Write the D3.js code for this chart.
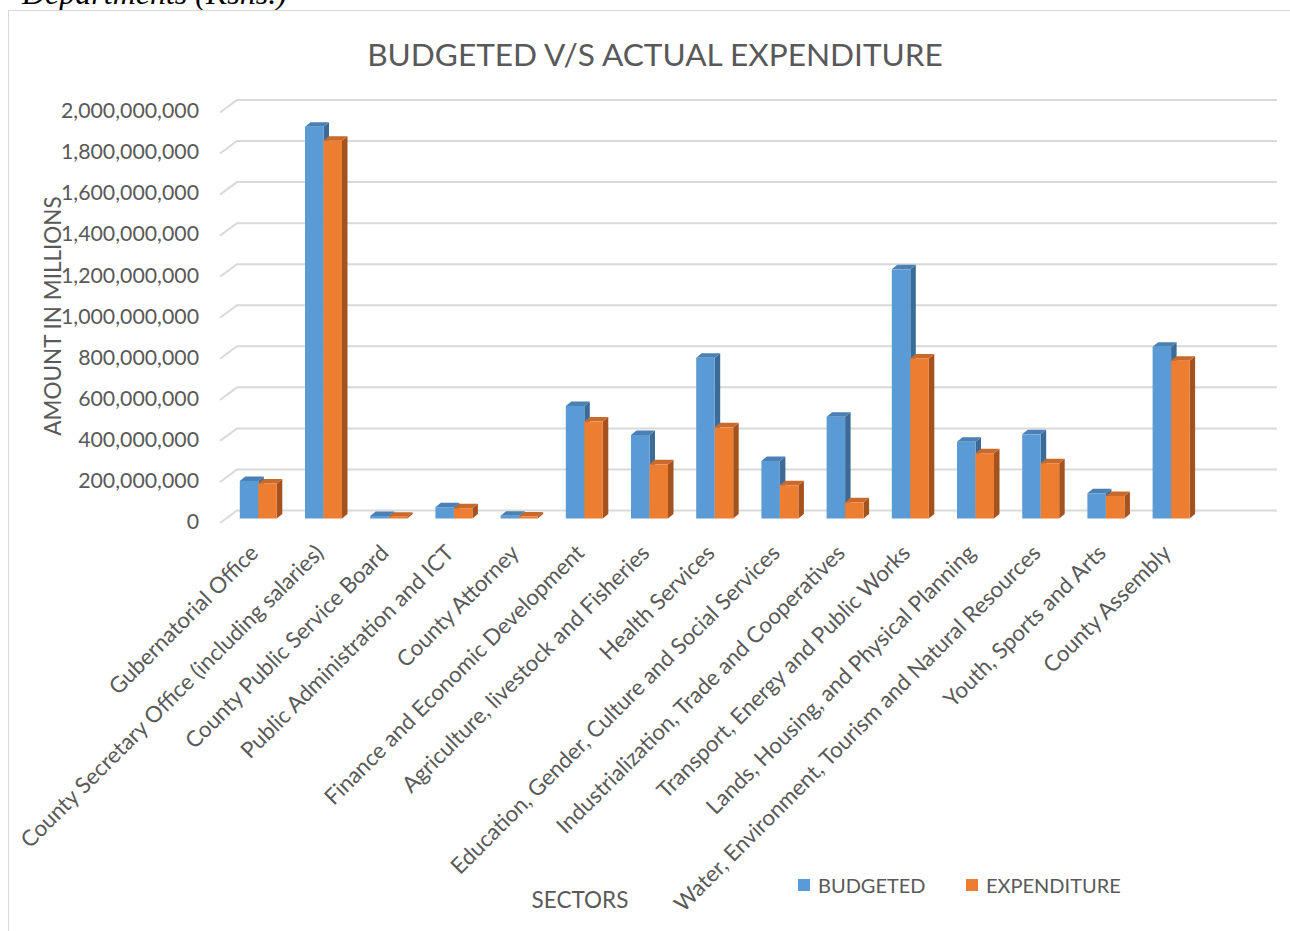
<!DOCTYPE html>
<html>
<head>
<meta charset="utf-8">
<script src="https://cdn.jsdelivr.net/npm/d3@7"></script>
<style>
  body { margin: 0; background: #fff; }
  svg { display: block; }
</style>
</head>
<body>
<div id="chart"></div>
<script>
const categories = [
  "Gubernatorial Office",
  "County Secretary Office (including salaries)",
  "County Public Service Board",
  "Public Administration and ICT",
  "County Attorney",
  "Finance and Economic Development",
  "Agriculture, livestock and Fisheries",
  "Health Services",
  "Education, Gender, Culture and Social Services",
  "Industrialization, Trade and Cooperatives",
  "Transport, Energy and Public Works",
  "Lands, Housing, and Physical Planning",
  "Water, Environment, Tourism and Natural Resources",
  "Youth, Sports and Arts",
  "County Assembly"
];
const budgeted = [183e6, 1909e6, 12e6, 55e6, 14e6, 548e6, 407e6, 783e6, 280e6, 496e6, 1214e6, 374e6, 410e6, 123e6, 837e6];
const expenditure = [171e6, 1841e6, 9e6, 50e6, 10e6, 472e6, 264e6, 444e6, 162e6, 79e6, 780e6, 318e6, 269e6, 110e6, 769e6];
const yTicks = [0, 200e6, 400e6, 600e6, 800e6, 1000e6, 1200e6, 1400e6, 1600e6, 1800e6, 2000e6];
const seriesNames = ["BUDGETED", "EXPENDITURE"];

const W = 1290, H = 931;
const font = "Lato, 'Open Sans', sans-serif";
const textCol = "#595959";

const svg = d3.select("#chart").append("svg")
  .attr("width", W).attr("height", H);

// caption above the chart box (cut off at the top, as in the source)
svg.append("text")
  .attr("x", 22).attr("y", 4)
  .attr("font-family", "'Liberation Serif', 'Times New Roman', serif")
  .attr("font-style", "italic")
  .attr("font-size", 32)
  .attr("fill", "#000")
  .text("Departments (Kshs.)");

// chart area border
svg.append("rect")
  .attr("x", 8.5).attr("y", 10.5)
  .attr("width", 1300).attr("height", 1000)
  .attr("fill", "none").attr("stroke", "#d9d9d9").attr("stroke-width", 1);

// title
svg.append("text")
  .attr("x", 655).attr("y", 66)
  .attr("text-anchor", "middle")
  .attr("font-family", font).attr("font-size", 31.6)
  .attr("fill", textCol)
  .text("BUDGETED V/S ACTUAL EXPENDITURE");

// 3d-ish geometry
const wallLeft = 237, wallRight = 1277;
const wallDx = 17, wallDy = 12.5;
const y = d3.scaleLinear().domain([0, 2e9]).range([510.5, 100]);   // back wall
const yBar = d3.scaleLinear().domain([0, 2e9]).range([518.5, 108]); // bar fronts
const x = d3.scaleBand().domain(categories).range([225.7, 1203.7]);
const barW = 18.5, depX = 5.5, depY = 4.5;

// gridlines on back wall + side wall diagonals
const grid = svg.append("g").attr("stroke", "#d9d9d9").attr("stroke-width", 2).attr("fill", "none");
yTicks.forEach(t => {
  const yy = y(t);
  grid.append("path")
    .attr("d", `M${wallLeft - wallDx},${yy + wallDy}L${wallLeft},${yy}L${wallRight},${yy}`);
});

// y axis labels (front edge of the side wall)
const yAxis = d3.axisLeft(y.copy().range([510.5 + 11, 100 + 11]))
  .tickValues(yTicks)
  .tickFormat(d3.format(","))
  .tickSize(0).tickPadding(0);
const gy = svg.append("g").attr("transform", "translate(199,0)").call(yAxis);
gy.select(".domain").remove();
gy.selectAll("text")
  .attr("font-family", font).attr("font-size", 21.3)
  .attr("fill", textCol);

// bars
const faces = [
  { front: "#5b9bd5", top: "#4a80b4", side: "#3d6b98" },
  { front: "#ed7d31", top: "#c9692a", side: "#a4531e" }
];

function drawBar(g, x0, v, c) {
  const yt = yBar(v), yb = yBar(0), x1 = x0 + barW;
  g.append("path")
    .attr("d", `M${x1},${yt}L${x1 + depX},${yt - depY}L${x1 + depX},${yb - depY}L${x1},${yb}Z`)
    .attr("fill", c.side);
  g.append("path")
    .attr("d", `M${x0},${yt}L${x0 + depX},${yt - depY}L${x1 + depX},${yt - depY}L${x1},${yt}Z`)
    .attr("fill", c.top);
  g.append("rect")
    .attr("x", x0).attr("y", yt)
    .attr("width", barW).attr("height", yb - yt)
    .attr("fill", c.front);
}

const bars = svg.append("g");
categories.forEach((cat, i) => {
  const cx = x(cat) + x.bandwidth() / 2;
  const g = bars.append("g");
  drawBar(g, cx - barW, budgeted[i], faces[0]);
  drawBar(g, cx, expenditure[i], faces[1]);
});

// category labels
svg.append("g").selectAll("text")
  .data(categories)
  .join("text")
  .attr("transform", d => `translate(${x(d) + x.bandwidth() / 2 - 10},${543}) rotate(-45)`)
  .attr("text-anchor", "end")
  .attr("dy", "0.72em")
  .attr("font-family", font).attr("font-size", 22.3)
  .attr("fill", textCol)
  .text(d => d);

// axis titles
svg.append("text")
  .attr("transform", "translate(61,316) rotate(-90)")
  .attr("text-anchor", "middle")
  .attr("font-family", font).attr("font-size", 22.5)
  .attr("fill", textCol)
  .text("AMOUNT IN MILLIONS");

svg.append("text")
  .attr("x", 580).attr("y", 908)
  .attr("text-anchor", "middle")
  .attr("font-family", font).attr("font-size", 22.5)
  .attr("fill", textCol)
  .text("SECTORS");

// legend
const legendX = [798, 966];
const legend = svg.append("g");
seriesNames.forEach((s, i) => {
  legend.append("rect")
    .attr("x", legendX[i]).attr("y", 879)
    .attr("width", 12).attr("height", 12)
    .attr("fill", faces[i].front);
  legend.append("text")
    .attr("x", legendX[i] + 20).attr("y", 893)
    .attr("font-family", font).attr("font-size", 20)
    .attr("fill", textCol)
    .text(s);
});
</script>
</body>
</html>
